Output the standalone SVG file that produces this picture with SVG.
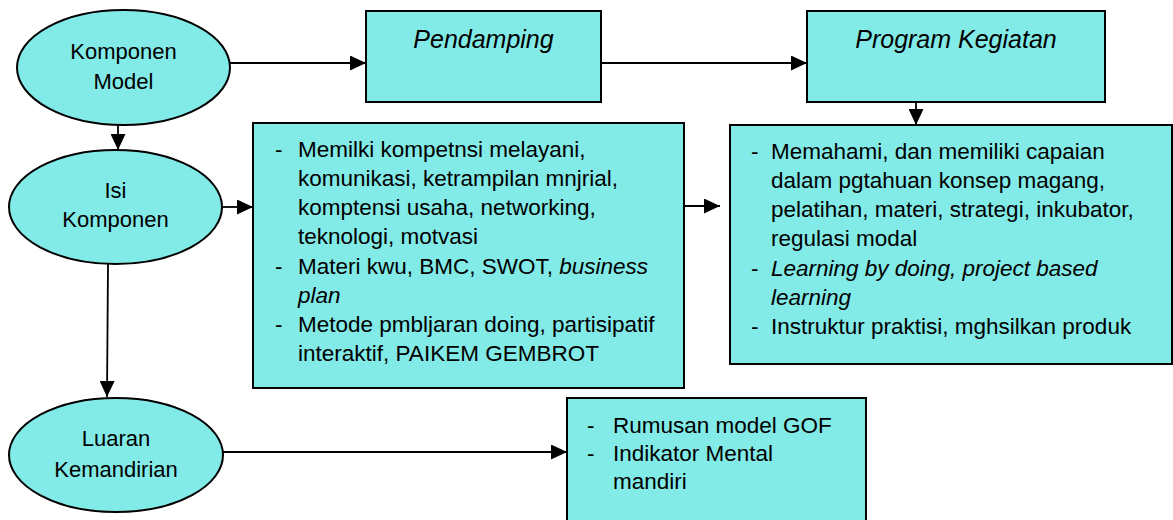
<svg xmlns="http://www.w3.org/2000/svg" width="1173" height="520" viewBox="0 0 1173 520">
<defs>
<marker id="ah" markerUnits="userSpaceOnUse" markerWidth="16" markerHeight="15" refX="16" refY="7.5" orient="auto">
<path d="M0,0 L16,7.5 L0,15 z" fill="#000"/>
</marker>
<style>
.shape{fill:#82EAE7;stroke:#000;stroke-width:2}
.conn{fill:none;stroke:#000;stroke-width:1.8;marker-end:url(#ah)}
text{font-family:"Liberation Sans",Arial,sans-serif;font-size:22.5px;fill:#000}
.c{text-anchor:middle;font-size:22px}
.t{font-size:25px;font-style:italic}
.i{font-style:italic}
</style>
</defs>
<rect width="1173" height="520" fill="#fff"/>
<g id="connectors">
<line class="conn" x1="230" y1="63" x2="366" y2="63"/>
<line class="conn" x1="601" y1="63" x2="807" y2="63"/>
<line class="conn" x1="916" y1="102" x2="916" y2="125"/>
<line class="conn" x1="118" y1="125" x2="118" y2="150"/>
<line class="conn" x1="222" y1="207" x2="253" y2="207"/>
<line class="conn" x1="684" y1="206" x2="720" y2="206"/>
<line class="conn" x1="108" y1="264" x2="107" y2="397"/>
<line class="conn" x1="223" y1="452" x2="567" y2="452"/>
</g>
<g id="komponen-model">
<ellipse class="shape" cx="123.5" cy="67.5" rx="106.5" ry="57.5"/>
<text class="c" x="123.5" y="59">Komponen</text>
<text class="c" x="123.5" y="89">Model</text>
</g>
<g id="pendamping">
<rect class="shape" x="366" y="11" width="235" height="91"/>
<text class="c t" x="483.5" y="48">Pendamping</text>
</g>
<g id="program-kegiatan">
<rect class="shape" x="807" y="11" width="298" height="91"/>
<text class="c t" x="956" y="48">Program Kegiatan</text>
</g>
<g id="isi-komponen">
<ellipse class="shape" cx="115.5" cy="207" rx="106.5" ry="57"/>
<text class="c" x="115.5" y="198">Isi</text>
<text class="c" x="115.5" y="227">Komponen</text>
</g>
<g id="isi-pendamping">
<rect class="shape" x="253" y="123" width="431" height="265"/>
<text x="275" y="157">-</text><text x="298" y="157">Memilki kompetnsi melayani,</text>
<text x="298" y="186">komunikasi, ketrampilan mnjrial,</text>
<text x="298" y="215">komptensi usaha, networking,</text>
<text x="298" y="244">teknologi, motvasi</text>
<text x="275" y="274">-</text><text x="298" y="274">Materi kwu, BMC, SWOT, <tspan class="i">business</tspan></text>
<text x="298" y="303" class="i">plan</text>
<text x="275" y="332">-</text><text x="298" y="332">Metode pmbljaran doing, partisipatif</text>
<text x="298" y="361">interaktif, PAIKEM GEMBROT</text>
</g>
<g id="isi-program">
<rect class="shape" x="730" y="125" width="442" height="239"/>
<text x="751" y="159">-</text><text x="771" y="159">Memahami, dan memiliki capaian</text>
<text x="771" y="188">dalam pgtahuan konsep magang,</text>
<text x="771" y="217">pelatihan, materi, strategi, inkubator,</text>
<text x="771" y="246">regulasi modal</text>
<text x="751" y="276">-</text><text x="771" y="276" class="i">Learning by doing, project based</text>
<text x="771" y="305" class="i">learning</text>
<text x="751" y="334">-</text><text x="771" y="334">Instruktur praktisi, mghsilkan produk</text>
</g>
<g id="luaran-kemandirian">
<ellipse class="shape" cx="116" cy="455" rx="107" ry="57"/>
<text class="c" x="116" y="446">Luaran</text>
<text class="c" x="116" y="477">Kemandirian</text>
</g>
<g id="isi-luaran">
<rect class="shape" x="567" y="398" width="299" height="126"/>
<text x="587" y="433">-</text><text x="613" y="433">Rumusan model GOF</text>
<text x="587" y="461">-</text><text x="613" y="461">Indikator Mental</text>
<text x="613" y="489">mandiri</text>
</g>
</svg>
